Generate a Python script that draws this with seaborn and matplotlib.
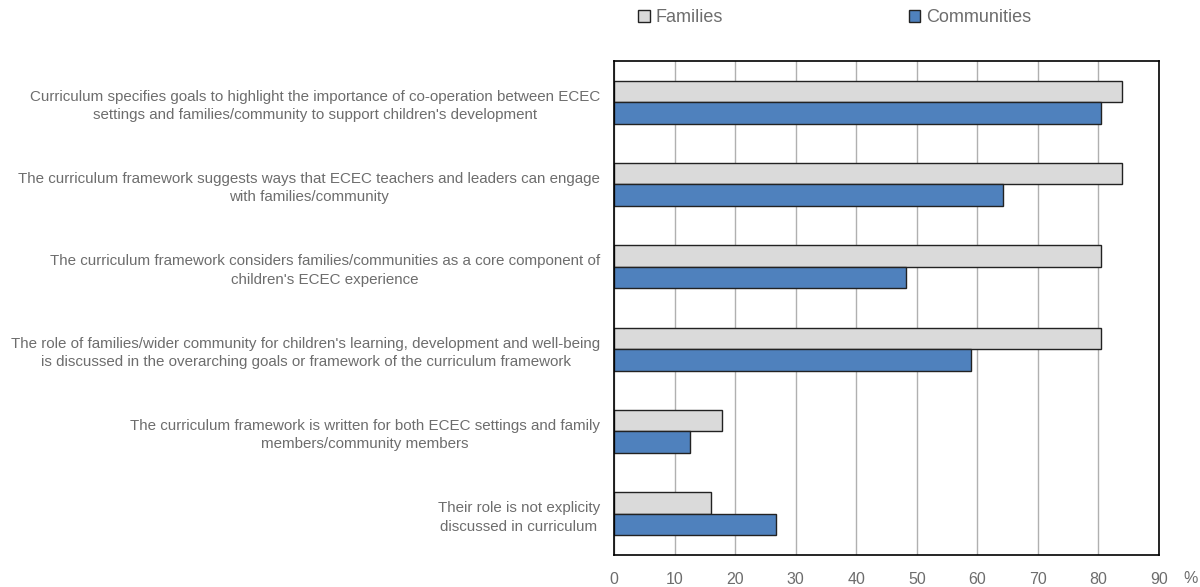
import matplotlib
matplotlib.use("Agg")
import matplotlib.pyplot as plt
import seaborn as sns
import pandas as pd
from matplotlib.patches import Patch
from matplotlib.ticker import FixedLocator

categories = [
    "Curriculum specifies goals to highlight the importance of co-operation between ECEC\nsettings and families/community to support children's development",
    "The curriculum framework suggests ways that ECEC teachers and leaders can engage\nwith families/community",
    "The curriculum framework considers families/communities as a core component of\nchildren's ECEC experience",
    "The role of families/wider community for children's learning, development and well-being\nis discussed in the overarching goals or framework of the curriculum framework",
    "The curriculum framework is written for both ECEC settings and family\nmembers/community members",
    "Their role is not explicity\ndiscussed in curriculum",
]
families = [83.9, 83.9, 80.4, 80.4, 17.9, 16.1]
communities = [80.4, 64.3, 48.2, 58.9, 12.5, 26.8]
series = ["Families", "Communities"]
colors = {"Families": "#dadada", "Communities": "#4f81bd"}
xticks = [0, 10, 20, 30, 40, 50, 60, 70, 80, 90]

df = pd.DataFrame({
    "category": categories * 2,
    "value": families + communities,
    "series": ["Families"] * len(categories) + ["Communities"] * len(categories),
})

sns.set_style("white")
plt.rcParams["font.family"] = ["Liberation Sans", "DejaVu Sans"]
ysize, xsize, lsize = 10.9, 11.5, 13
text_color = "#6d6d6d"

fig = plt.figure(figsize=(12, 5.87), dpi=100)
ax = fig.add_axes([614 / 1200, 1 - 555 / 587, (1159 - 614) / 1200, (555 - 61) / 587])

sns.barplot(data=df, x="value", y="category", hue="series", hue_order=series,
            palette=colors, orient="h", width=0.52, gap=0, ax=ax,
            edgecolor="#222222", linewidth=1.0, legend=False, saturation=1)

ax.set_xlim(0, 90)
ax.set_ylim(len(categories) - 0.5, -0.5)
ax.set_xticks(xticks)
ax.set_xlabel("")
ax.set_ylabel("")
ax.grid(axis="x", color="#b0b0b0", linewidth=1.0)
ax.set_axisbelow(True)
for s in ax.spines.values():
    s.set_visible(True)
    s.set_color("#000000")
    s.set_linewidth(1.2)

ax.tick_params(axis="x", direction="in", length=4, width=1, color="#000000",
               labelsize=xsize, labelcolor=text_color, pad=12)
ax.tick_params(axis="y", which="major", length=0, labelsize=ysize,
               labelcolor=text_color, pad=10)
ax.yaxis.set_minor_locator(FixedLocator([i + 0.5 for i in range(len(categories) - 1)]))
ax.tick_params(axis="y", which="minor", direction="in", length=5, width=1.2, color="#000000")
for lab in ax.get_yticklabels():
    lab.set_multialignment("center")
    lab.set_linespacing(1.4)

ax.text(1.057, -0.047, "%", transform=ax.transAxes, ha="center", va="center",
        fontsize=xsize, color=text_color)

handles = [Patch(facecolor=colors[s], edgecolor="#222222", linewidth=1.0) for s in series]
fig.legend(handles, series, loc="center left", bbox_to_anchor=(622 / 1200, 1 - 18 / 587),
           ncol=2, frameon=False, fontsize=lsize, labelcolor=text_color,
           handlelength=0.65, handleheight=0.65, handletextpad=0.3, columnspacing=10.3)

fig.savefig("out.png", dpi=100)
